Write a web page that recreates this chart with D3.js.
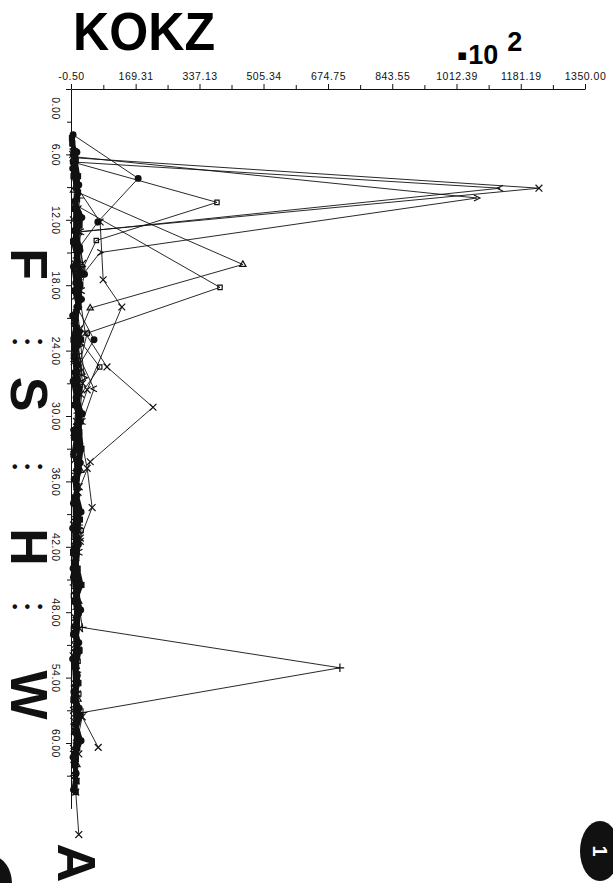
<!DOCTYPE html>
<html lang="de">
<head>
<meta charset="utf-8">
<title>KOKZ</title>
<script src="https://cdnjs.cloudflare.com/ajax/libs/d3/7.8.5/d3.min.js"></script>
<style>
body{margin:0;background:#fff;}
svg{display:block;}
</style>
</head>
<body>
<div id="chart"></div>
<script>
// tick labels as printed on the plot (x values are in units of 10^2)
var xTickLabels = ["-0.50","169.31","337.13","505.34","674.75","843.55","1012.39","1181.19","1350.00"];
var yTickLabels = ["0.00","6.00","12.00","18.00","24.00","30.00","36.00","42.00","48.00","54.00","60.00"];
var sideLetters = ["F","S","H","W"];

// one profile per series: depth (vertical axis) and value (horizontal axis)
var s1Depth = [4.2, 8.2, 12.2, 14.5, 17, 20, 23, 26, 29, 32, 35, 38, 41, 44, 47, 50, 53, 56, 59, 62];
var s1Value = [5, 176, 70, 22, 35, 15, 60, 10, 18, 8, 14, 6, 12, 5, 10, 6, 12, 8, 15, 10];
var s2Depth = [6.3, 9.1, 13.1, 16, 19, 22, 25, 28, 31, 34, 37, 40, 43, 46, 49, 52, 55, 58, 61, 64.5, 68.4];
var s2Value = [5, 1229, 20, 30, 12, 22, 8, 25, 15, 10, 18, 6, 12, 9, 14, 5, 11, 7, 20, 12, 20];
var s3Depth = [6.7, 9.1, 13.1, 15.5, 18.5, 21.5, 24.5, 27.5, 30.5, 33.5, 36.5, 39.5, 42.5, 45.5, 48.5, 51.5, 54.5, 57.5, 60.5, 63.5];
var s3Value = [6, 1127, 26, 14, 28, 9, 20, 60, 30, 7, 16, 10, 22, 6, 13, 9, 17, 11, 8, 14];
var s4Depth = [6.2, 10.0, 15.0, 17.5, 20.5, 23.5, 26.5, 29.5, 32.5, 35.5, 38.5, 41.5, 44.5, 47.5, 50.5, 53.5, 56.5, 59.5, 62.5];
var s4Value = [5, 1066, 76, 20, 12, 25, 35, 14, 22, 10, 18, 7, 15, 11, 8, 16, 6, 12, 9];
var s5Depth = [6.7, 10.4, 13.9, 16.5, 19.5, 22.5, 25.5, 28.5, 31.5, 34.5, 37.5, 40.5, 43.5, 46.5, 49.5, 52.5, 55.5, 58.5, 61.5];
var s5Value = [4, 383, 66, 30, 18, 10, 75, 16, 8, 20, 12, 26, 9, 14, 6, 18, 10, 7, 13];
var s6Depth = [5.5, 9.3, 16.1, 20.1, 23, 26, 29, 32, 35, 38, 41, 44, 47, 50, 53, 56, 59, 62];
var s6Value = [8, 6, 451, 50, 15, 28, 10, 19, 25, 9, 16, 11, 20, 7, 13, 18, 9, 15];
var s7Depth = [5.0, 7.5, 10.6, 18.2, 22.4, 25.5, 28.5, 31.5, 34.5, 37.5, 40.5, 43.5, 46.5, 49.5, 52.5, 55.5, 58.5, 61.5];
var s7Value = [3, 12, 10, 391, 42, 20, 12, 22, 15, 9, 17, 12, 6, 14, 10, 20, 8, 11];
var s8Depth = [5.8, 9.0, 12.2, 17.5, 20.0, 27.6, 30.5, 33.5, 36.5, 39.5, 42.5, 45.5, 48.5, 51.5, 54.5, 57.5, 60.5, 63.0];
var s8Value = [6, 15, 76, 84, 133, 42, 14, 8, 21, 12, 6, 16, 10, 19, 8, 13, 6, 10];
var s9Depth = [6.0, 11.0, 16.0, 22.4, 25.5, 29.2, 34.2, 37.5, 40.5, 43.5, 46.5, 49.5, 52.5, 55.5, 58.5, 61.5];
var s9Value = [4, 18, 9, 37, 94, 215, 50, 12, 20, 8, 15, 22, 9, 16, 12, 7];
var s10Depth = [7.0, 12, 17, 22, 27, 31, 34.8, 38.4, 41.2, 45, 48, 51, 54, 57, 60, 63];
var s10Value = [10, 6, 22, 14, 30, 20, 42, 55, 24, 11, 18, 9, 14, 6, 17, 10];
var s11Depth = [5.5, 10, 15, 20, 25, 30, 35, 40, 44.5, 49.4, 53.1, 57.2, 60, 63];
var s11Value = [7, 22, 12, 18, 9, 25, 14, 20, 10, 29, 706, 31, 15, 9];
var s12Depth = [6.5, 11.5, 16.5, 21.5, 26.5, 31.5, 36.5, 41.5, 46.5, 51.5, 55, 57.6, 60.4];
var s12Value = [9, 14, 26, 11, 19, 7, 15, 24, 12, 18, 10, 29, 71];
var s13Depth = [4.5, 8, 13, 18, 23, 28, 33, 38, 43, 48, 53, 58, 61, 64.5];
var s13Value = [2, 18, 10, 24, 6, 15, 27, 9, 13, 20, 8, 16, 10, 12];
var b1Depth = [5.0,6.5,8.0,9.5,11.0,12.5,14.0,15.5,17.0,18.5,20.0,21.5,23.0,24.5,26.0,27.5,29.0,30.5,32.0,33.5,35.0,36.5,38.0,39.5,41.0,42.5,44.0,45.5,47.0,48.5,50.0,51.5,53.0,54.5,56.0,57.5,59.0,60.5,62.0,63.5];
var b1Value = [3,12,6,18,9,22,5,15,24,8,19,11,26,7,16,21,10,25,13,6,20,14,9,23,12,5,17,27,10,15,8,22,13,19,6,24,11,16,9,14];
var b2Depth = [5.8,7.3,8.8,10.3,11.8,13.3,14.8,16.3,17.8,19.3,20.8,22.3,23.8,25.3,26.8,28.3,29.8,31.3,32.8,34.3,35.8,37.3,38.8,40.3,41.8,43.3,44.8,46.3,47.8,49.3,50.8,52.3,53.8,55.3,56.8,58.3,59.8,61.3,62.8,64.3];
var b2Value = [15,4,20,10,28,14,23,6,12,27,4,21,9,18,5,13,29,7,17,24,8,15,26,4,19,11,6,14,25,9,20,4,16,7,21,12,26,5,13,6];

var seriesDepth = [s1Depth,s2Depth,s3Depth,s4Depth,s5Depth,s6Depth,s7Depth,s8Depth,s9Depth,s10Depth,s11Depth,s12Depth,s13Depth,b1Depth,b2Depth];
var seriesValue = [s1Value,s2Value,s3Value,s4Value,s5Value,s6Value,s7Value,s8Value,s9Value,s10Value,s11Value,s12Value,s13Value,b1Value,b2Value];
var seriesMark  = ["dot","times","chevL","chevR","square","triangle","square","times","times","times","plus","times","block","block","dot"];
var seriesHeavy = [false,false,false,false,false,false,false,false,false,false,false,false,true,true,true];

var W = 613, H = 883;
var svg = d3.select("#chart").append("svg").attr("width", W).attr("height", H);

var x = d3.scaleLinear().domain([-0.5, 1350]).range([71, 585]);
var y = d3.scaleLinear().domain([0, 66]).range([89, 808.4]);

// title and exponent
svg.append("text").attr("x", 73).attr("y", 50)
    .attr("textLength", 142).attr("lengthAdjust", "spacingAndGlyphs")
    .style("font-family", "'Liberation Sans', Arial, sans-serif").style("font-weight", "bold")
    .style("font-size", "54px").text("KOKZ");
var ex = svg.append("text").attr("x", 457).attr("y", 64)
    .style("font-family", "'Liberation Sans', Arial, sans-serif").style("font-weight", "bold")
    .style("font-size", "27px");
ex.append("tspan").style("font-family", "'DejaVu Sans', sans-serif").style("font-size", "15px").attr("dy", -4).text("\u25AA");
ex.append("tspan").attr("dx", 1).attr("dy", 4).text("10");
ex.append("tspan").attr("dx", 9).attr("dy", -13).text("2");

// x axis on top
var xTickValues = xTickLabels.map(Number);
var xMinor = d3.pairs(xTickValues).map(function(p){ return (p[0] + p[1]) / 2; });
var gx = svg.append("g").attr("transform", "translate(0," + y(0) + ")")
    .call(d3.axisTop(x).tickValues(xTickValues)
        .tickFormat(function(d, i){ return xTickLabels[i]; })
        .tickSize(5).tickSizeOuter(0).tickPadding(4));
svg.append("g").attr("transform", "translate(0," + y(0) + ")")
    .call(d3.axisTop(x).tickValues(xMinor).tickFormat("").tickSize(4).tickSizeOuter(0))
    .select(".domain").remove();

// y axis on the left, labels turned
var yMajor = yTickLabels.map(Number);
var yMinor = d3.range(3, 66, 6);
var gy = svg.append("g").attr("transform", "translate(" + x(-0.5) + ",0)")
    .call(d3.axisLeft(y).tickValues(yMajor)
        .tickFormat(function(d, i){ return yTickLabels[i]; })
        .tickSize(5).tickSizeOuter(0));
svg.append("g").attr("transform", "translate(" + x(-0.5) + ",0)")
    .call(d3.axisLeft(y).tickValues(yMinor).tickFormat("").tickSize(4).tickSizeOuter(0))
    .select(".domain").remove();

gy.selectAll(".tick text")
    .attr("text-anchor", "middle")
    .attr("dy", null)
    .attr("x", function(d){ return d === 0 ? 19 : 0; })
    .attr("y", 19)
    .attr("transform", "rotate(90)");

svg.selectAll(".tick text")
    .style("font-family", "'Liberation Sans', Arial, sans-serif")
    .style("font-size", "10.5px").style("letter-spacing", "0.5px").attr("fill", "#111");
svg.selectAll(".domain, .tick line").attr("stroke", "#111").attr("stroke-width", 1);

// profiles
var line = d3.line()
    .x(function(p){ return x(p[1]); })
    .y(function(p){ return y(p[0]); });

function markPath(kind){
    if (kind === "dot") return {d: d3.symbol(d3.symbolCircle, 38)(), fill: "#111", stroke: "none"};
    if (kind === "block") return {d: d3.symbol(d3.symbolSquare, 38)(), fill: "#111", stroke: "none"};
    if (kind === "times") return {d: d3.symbol(d3.symbolTimes, 32)(), fill: "none", stroke: "#111"};
    if (kind === "plus") return {d: d3.symbol(d3.symbolPlus, 26)(), fill: "none", stroke: "#111"};
    if (kind === "square") return {d: d3.symbol(d3.symbolSquare2, 24)(), fill: "none", stroke: "#111"};
    if (kind === "triangle") return {d: d3.symbol(d3.symbolTriangle2, 28)(), fill: "none", stroke: "#111"};
    if (kind === "chevL") return {d: "M3,-3L-3,0L3,3", fill: "none", stroke: "#111"};
    return {d: "M-3,-3L3,0L-3,3", fill: "none", stroke: "#111"};
}

seriesDepth.forEach(function(depths, i){
    var pts = depths.map(function(dv, j){ return [dv, seriesValue[i][j]]; });
    var g = svg.append("g");
    g.append("path").attr("d", line(pts))
        .attr("fill", "none").attr("stroke", "#111")
        .attr("stroke-width", seriesHeavy[i] ? 4.2 : 0.9);
    var m = markPath(seriesMark[i]);
    g.selectAll("path.m").data(pts).enter().append("path").attr("class", "m")
        .attr("transform", function(p){ return "translate(" + x(p[1]) + "," + y(p[0]) + ")"; })
        .attr("d", m.d).attr("fill", m.fill).attr("stroke", m.stroke).attr("stroke-width", 1.2);
});

// big rotated letters down the left margin, with dotted separators
var letterY = [264, 394, 547, 695];
sideLetters.forEach(function(t, i){
    svg.append("text")
        .attr("transform", "translate(11," + letterY[i] + ") rotate(90)")
        .attr("text-anchor", "middle")
        .style("font-family", "'Liberation Sans', Arial, sans-serif")
        .style("font-weight", "bold")
        .style("font-size", "52px")
        .attr("fill", "#111")
        .text(t);
});
[342, 467, 607].forEach(function(dy){
    svg.append("text").attr("x", 12).attr("y", dy + 5)
        .style("font-family", "'Liberation Sans', Arial, sans-serif")
        .style("font-weight", "bold").style("font-size", "16px").style("letter-spacing", "7px")
        .attr("fill", "#111")
        .text("\u2022\u2022\u2022");
});
svg.append("text")
    .attr("transform", "translate(58,863) rotate(90)")
    .attr("text-anchor", "middle")
    .style("font-family", "'Liberation Sans', Arial, sans-serif")
    .style("font-weight", "bold").style("font-size", "54px").attr("fill", "#111")
    .text("A");

// page marks at the bottom
svg.append("ellipse").attr("cx", -6).attr("cy", 884).attr("rx", 18).attr("ry", 27).attr("fill", "#111");
svg.append("ellipse").attr("cx", 600).attr("cy", 851).attr("rx", 20).attr("ry", 30).attr("fill", "#111");
svg.append("text")
    .attr("transform", "translate(593,851) rotate(90)")
    .attr("text-anchor", "middle")
    .style("font-family", "'Liberation Sans', Arial, sans-serif")
    .style("font-weight", "bold").style("font-size", "20px").attr("fill", "#fff")
    .text("1");
</script>
</body>
</html>
